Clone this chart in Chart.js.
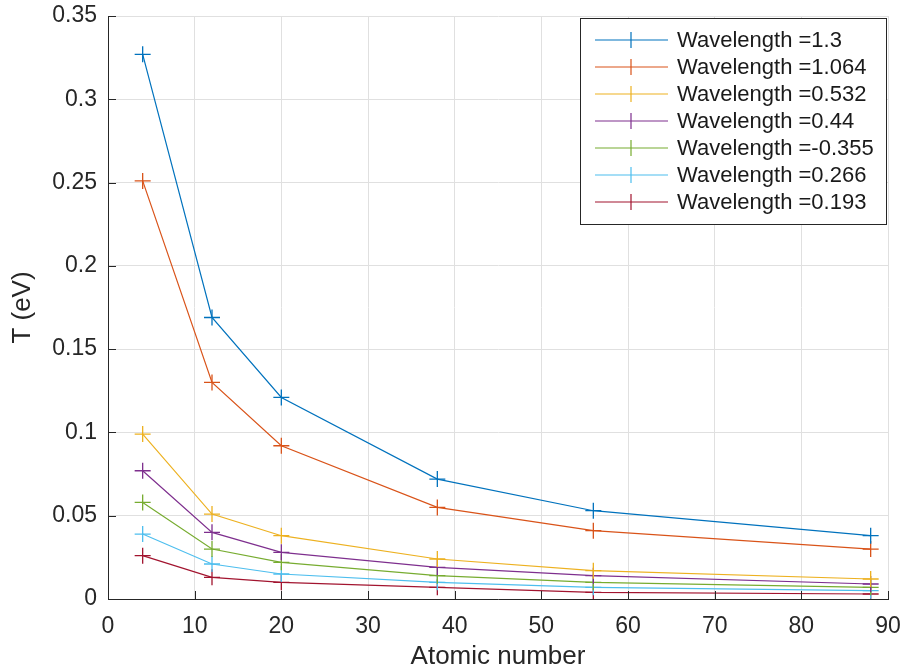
<!DOCTYPE html>
<html>
<head>
<meta charset="utf-8">
<script src="https://cdn.jsdelivr.net/npm/chart.js@4"></script>
<style>
  html, body { margin: 0; padding: 0; background: #fff; }
  #wrap { width: 909px; height: 670px; }
</style>
</head>
<body>
<div id="wrap"><canvas id="tChart" width="909" height="670"></canvas></div>
<script>
// atomic numbers of the targets
const atomicNumbers = [4, 12, 20, 38, 56, 88];

const labels = ['Wavelength =1.3', 'Wavelength =1.064', 'Wavelength =0.532', 'Wavelength =0.44',
                'Wavelength =-0.355', 'Wavelength =0.266', 'Wavelength =0.193'];

const t_1300 = [0.327, 0.169, 0.121, 0.072, 0.053, 0.038];
const t_1064 = [0.251, 0.130, 0.092, 0.055, 0.041, 0.030];
const t_532  = [0.099, 0.051, 0.038, 0.024, 0.017, 0.012];
const t_440  = [0.077, 0.040, 0.028, 0.019, 0.014, 0.009];
const t_355  = [0.058, 0.030, 0.022, 0.014, 0.010, 0.007];
const t_266  = [0.039, 0.021, 0.015, 0.010, 0.007, 0.005];
const t_193  = [0.026, 0.013, 0.010, 0.007, 0.004, 0.003];

const colors = ['#0072BD', '#D95319', '#EDB120', '#7E2F8E', '#77AC30', '#4DBEEE', '#A2142F'];
const series = [t_1300, t_1064, t_532, t_440, t_355, t_266, t_193];

const FONT = "'Liberation Sans', Arial, Helvetica, sans-serif";

function makeDataset(vals, i) {
    return {
        label: labels[i],
        data: vals.map((v, k) => ({ x: atomicNumbers[k], y: v })),
        borderColor: colors[i],
        backgroundColor: colors[i],
        borderWidth: 1.2,
        pointStyle: 'cross',
        pointRadius: 8,
        pointBorderWidth: 1.3,
        tension: 0,
        fill: false
    };
}

// tick marks pointing inward, like matlab
const innerTicks = {
    id: 'innerTicks',
    afterDraw(chart) {
        const ctx = chart.ctx;
        const area = chart.chartArea;
        const xs = chart.scales.x, ys = chart.scales.y;
        ctx.save();
        ctx.strokeStyle = '#262626';
        ctx.lineWidth = 1;
        ctx.beginPath();
        ys.ticks.forEach(t => {
            const py = Math.round(ys.getPixelForValue(t.value)) + 0.5;
            ctx.moveTo(area.left, py);
            ctx.lineTo(area.left + 8, py);
        });
        xs.ticks.forEach(t => {
            const px = Math.round(xs.getPixelForValue(t.value)) + 0.5;
            ctx.moveTo(px, area.bottom);
            ctx.lineTo(px, area.bottom - 8);
        });
        ctx.stroke();
        ctx.restore();
    }
};

// legend box in the top right corner
const boxLegend = {
    id: 'boxLegend',
    afterDraw(chart) {
        const ctx = chart.ctx;
        const area = chart.chartArea;
        const sets = chart.data.datasets;
        const rowH = 27;
        const w = 306;
        const h = sets.length * rowH + 17;
        const x0 = area.right - w - 2;
        const y0 = area.top + 2;
        ctx.save();
        ctx.fillStyle = '#fff';
        ctx.fillRect(x0, y0, w, h);
        ctx.strokeStyle = '#262626';
        ctx.lineWidth = 1;
        ctx.strokeRect(x0 + 0.5, y0 + 0.5, w, h);
        ctx.font = '22px ' + FONT;
        ctx.textBaseline = 'middle';
        sets.forEach((ds, i) => {
            const cy = y0 + 22 + i * rowH;
            ctx.strokeStyle = ds.borderColor;
            ctx.lineWidth = 1.2;
            ctx.beginPath();
            ctx.moveTo(x0 + 15, cy);
            ctx.lineTo(x0 + 88, cy);
            ctx.moveTo(x0 + 51, cy - 8);
            ctx.lineTo(x0 + 51, cy + 8);
            ctx.stroke();
            ctx.fillStyle = '#1a1a1a';
            ctx.fillText(ds.label, x0 + 97, cy + 1);
        });
        ctx.restore();
    }
};

const ctx = document.getElementById('tChart').getContext('2d');
new Chart(ctx, {
    type: 'line',
    data: { datasets: series.map(makeDataset) },
    options: {
        responsive: false,
        animation: false,
        layout: { padding: { top: 16, right: 21, left: 0, bottom: 0 } },
        plugins: {
            legend: { display: false },
            tooltip: { enabled: false }
        },
        scales: {
            x: {
                type: 'linear',
                min: 0,
                max: 90,
                ticks: {
                    stepSize: 10,
                    color: '#262626',
                    font: { family: FONT, size: 23 },
                    padding: 14
                },
                grid: { color: '#e0e0e0', drawTicks: false },
                border: { color: '#262626', width: 1 },
                title: {
                    display: true,
                    text: 'Atomic number',
                    color: '#262626',
                    font: { family: FONT, size: 26, lineHeight: 1.0 },
                    padding: { top: 0, bottom: 0 }
                },
                afterFit(scale) {
                    scale.height = 71;
                    scale.paddingLeft = 0;
                    scale.paddingRight = 0;
                }
            },
            y: {
                min: 0,
                max: 0.35,
                ticks: {
                    stepSize: 0.05,
                    color: '#262626',
                    font: { family: FONT, size: 23 },
                    padding: 11,
                    callback: v => String(Math.round(v * 100) / 100)
                },
                grid: { color: '#e0e0e0', drawTicks: false },
                border: { color: '#262626', width: 1 },
                title: {
                    display: true,
                    text: 'T (eV)',
                    color: '#262626',
                    font: { family: FONT, size: 26 },
                    padding: { top: 7, bottom: 0 }
                },
                afterFit(scale) {
                    scale.width = 108;
                    scale.paddingTop = 0;
                    scale.paddingBottom = 0;
                }
            }
        }
    },
    plugins: [innerTicks, boxLegend]
});
</script>
</body>
</html>
